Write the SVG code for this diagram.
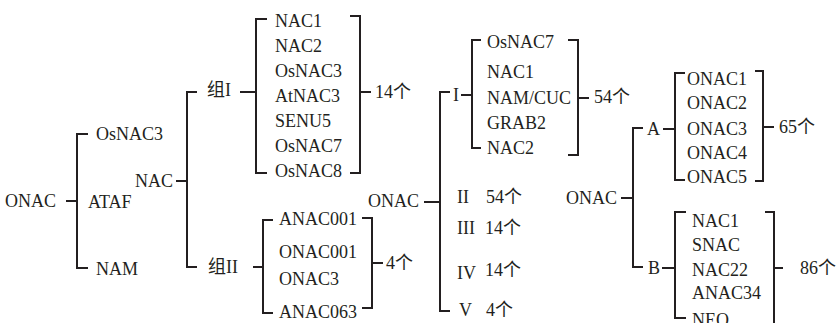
<svg xmlns="http://www.w3.org/2000/svg" width="839" height="323" viewBox="0 0 839 323">
<style>
text{font-family:"Liberation Serif","Noto Sans CJK SC",serif;font-size:18px;fill:#231f20}
.c path{fill:none;stroke:#231f20;stroke-width:2}
</style>
<rect width="839" height="323" fill="#fff"/>
<g class="c" id="connectors">
<path d="M66 201H77M88 134H77V268H88"/>
<path d="M176 181H187M197 92H187V267H197"/>
<path d="M240 92H256M267 19H256V173H267"/>
<path d="M350 16H360V173H350M360 92H371"/>
<path d="M253 267H263M273 220H263V313H273"/>
<path d="M362 218H372V308H362M372 263H383"/>
<path d="M424 202H440M450 92H440V311H450"/>
<path d="M461 95H472M481 40H472V148H481"/>
<path d="M568 40H578V155H568M578 98H589"/>
<path d="M621 198H633M643 128H633V267H643"/>
<path d="M663 129H675M685 73H675V180H685"/>
<path d="M755 71H763V181H755M763 127H774"/>
<path d="M662 268H675M686 212H675V318H686"/>
<path d="M765 212H774V330M774 268H783"/>
</g>
<g id="onac1"><text x="5" y="207">ONAC</text></g>
<g id="osnac3a"><text x="96" y="140">OsNAC3</text></g>
<g id="ataf"><text x="88" y="208">ATAF</text></g>
<g id="nam"><text x="96" y="275">NAM</text></g>
<g id="nac"><text x="135" y="187">NAC</text></g>
<g id="g1"><text x="207" y="96">组I</text></g>
<g id="g1list">
<text x="275" y="27">NAC1</text>
<text x="275" y="52">NAC2</text>
<text x="275" y="77">OsNAC3</text>
<text x="275" y="102">AtNAC3</text>
<text x="275" y="127">SENU5</text>
<text x="275" y="152">OsNAC7</text>
<text x="275" y="177">OsNAC8</text>
</g>
<g id="g1count"><text x="375" y="98">14个</text></g>
<g id="g2"><text x="208" y="273">组II</text></g>
<g id="g2list">
<text x="279" y="225">ANAC001</text>
<text x="279" y="258">ONAC001</text>
<text x="279" y="285">ONAC3</text>
<text x="279" y="318">ANAC063</text>
</g>
<g id="g2count"><text x="386" y="269">4个</text></g>
<g id="onac2"><text x="368" y="207">ONAC</text></g>
<g id="c1"><text x="453" y="101">I</text></g>
<g id="c1list">
<text x="487" y="48">OsNAC7</text>
<text x="487" y="78">NAC1</text>
<text x="487" y="104">NAM/CUC</text>
<text x="487" y="129">GRAB2</text>
<text x="487" y="154">NAC2</text>
</g>
<g id="c1count"><text x="594" y="103">54个</text></g>
<g id="c2"><text x="457" y="203">II</text><text x="486" y="203">54个</text></g>
<g id="c3"><text x="457" y="234">III</text><text x="485" y="234">14个</text></g>
<g id="c4"><text x="457" y="279">IV</text><text x="485" y="276">14个</text></g>
<g id="c5"><text x="459" y="316">V</text><text x="486" y="316">4个</text></g>
<g id="onac3"><text x="566" y="204">ONAC</text></g>
<g id="ga"><text x="647" y="135">A</text></g>
<g id="galist">
<text x="687" y="85">ONAC1</text>
<text x="687" y="109">ONAC2</text>
<text x="687" y="135">ONAC3</text>
<text x="687" y="159">ONAC4</text>
<text x="687" y="183">ONAC5</text>
</g>
<g id="gacount"><text x="779" y="133">65个</text></g>
<g id="gb"><text x="648" y="274">B</text></g>
<g id="gblist">
<text x="692" y="227">NAC1</text>
<text x="692" y="251">SNAC</text>
<text x="692" y="276">NAC22</text>
<text x="692" y="299">ANAC34</text>
<text x="692" y="326">NEO</text>
</g>
<g id="gbcount"><text x="800" y="274">86个</text></g>
</svg>
